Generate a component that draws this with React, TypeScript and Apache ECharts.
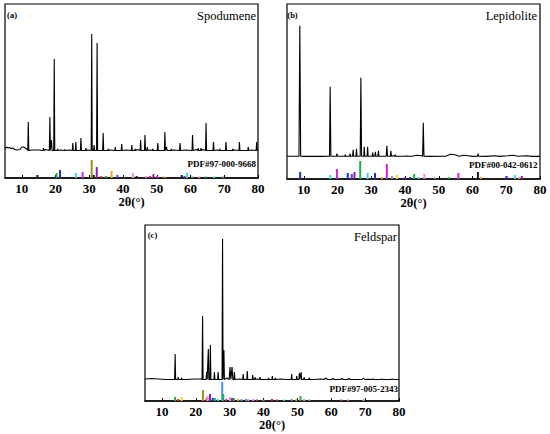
import React, { useEffect, useRef } from "react";
import * as echarts from "echarts";

// ---------- data ----------
const TICK_LABELS = [10, 20, 30, 40, 50, 60, 70, 80];

// Spodumene pattern: [2θ, intensity, optional half-width]
const spodPeaks = [
  [11.9, 29], [16.4, 3], [18.3, 34], [18.8, 11], [19.6, 92], [20.6, 2], [22.7, 1.5],
  [25.1, 8], [26.0, 9], [27.5, 13], [29.0, 3], [30.7, 117], [31.4, 6], [32.3, 108],
  [34.1, 18], [35.6, 2], [37.7, 4], [39.6, 7], [42.6, 6], [43.6, 2], [45.2, 11],
  [46.5, 16], [47.2, 4], [48.8, 2], [50.3, 8], [52.4, 19], [52.9, 4], [54.3, 2],
  [56.9, 8], [60.6, 16], [62.3, 3], [63.1, 3], [64.6, 28], [66.8, 9], [68.7, 2],
  [70.5, 9], [72.5, 2], [74.5, 9], [77.1, 4], [79.6, 9],
];
const spodBackground = [
  [5, 2], [5.4, 4], [5.9, 3], [6.3, 3.5], [6.8, 2.5], [7.3, 3], [7.8, 1.5], [8.5, 1],
  [9.5, 1.5], [10.0, 4], [10.5, 4], [11.0, 3], [11.4, 2], [13, 1], [15, 1], [17, 1.5],
  [21.5, 1], [24, 1], [29.6, 1], [36, 1], [41, 1], [44.3, 1.5], [48, 1], [55, 1], [58.5, 1],
  [61.8, 1.5], [63.6, 1.5], [68, 1], [73, 1], [78, 1], [80, 1],
];
const spodStickPos = [
  14.6, 20.3, 21.3, 26.0, 28.0, 30.7, 31.3, 32.2, 33.4, 34.9, 36.6, 38.3, 42.9, 44.0,
  46.8, 48.0, 49.0, 50.1, 52.3, 57.4, 58.2, 59.0, 60.5, 62.5, 64.5, 67.0, 69.5,
];
const spodStickInt = [
  3, 5, 8, 5, 6, 18, 3, 11, 2, 2, 7, 3, 5, 2,
  2, 2, 4, 2, 1.5, 3, 2, 5, 1.5, 1.5, 1.5, 1.5, 1.5,
];
const spodStickColor = [
  "black", "green", "blue", "cyan", "magenta", "olive", "black", "purple", "red", "green", "orange", "indigo", "pink", "black",
  "pink", "red", "purple", "magenta", "orange", "black", "purple", "cyan", "gray", "pink", "green", "cyan", "gray",
];

// Lepidolite pattern
const lepiPeaks = [
  [8.8, 131, 0.25], [17.8, 70, 0.2], [19.8, 3], [22.3, 2], [23.7, 3], [24.6, 7], [25.6, 8],
  [26.9, 79, 0.2], [27.9, 10], [28.9, 10], [30.4, 4], [31.2, 5], [32.1, 6], [34.6, 11, 0.2],
  [35.8, 6], [37.1, 2], [40.4, 1], [45.4, 34, 0.2], [61.6, 3],
];
const lepiBackground = [
  [5, 0.5], [8, 0.5], [10, 0.3], [15, 0.3], [21, 0.5], [36.5, 1], [38.3, 0.5], [42, 0.5],
  [43.5, 1.5], [44.5, 1.2], [47, 0.3], [52, 0.5], [53.5, 2.5], [54.8, 2], [56, 0.5],
  [57.5, 1.5], [58.7, 1], [60, 0.3], [64, 0.3], [66.5, 1], [68, 0.3], [70.5, 1], [72, 1.5],
  [73.5, 0.5], [76, 1], [77.5, 0.3], [80, 0.3],
];
const lepiStickPos = [
  8.9, 17.8, 19.8, 23.0, 24.2, 25.0, 26.7, 28.9, 31.1, 33.1, 34.6, 36.1, 37.6, 40.0,
  41.5, 42.7, 44.0, 45.7, 48.9, 52.9, 55.8, 61.6, 62.5, 70.1, 72.6, 73.8, 74.6,
];
const lepiStickInt = [
  7, 4, 10, 6, 5, 7, 18, 6, 6, 2, 15, 3, 4, 2,
  2, 5, 2, 5, 1.5, 2, 6, 7, 2, 3, 4, 2, 3,
];
const lepiStickColor = [
  "blue", "cyan", "magenta", "blue", "indigo", "purple", "green", "cyan", "blue", "orange", "magenta", "gray", "yellow", "purple",
  "blue", "green", "cyan", "pink", "gray", "green", "magenta", "black", "orange", "blue", "cyan", "orange", "purple",
];

// Feldspar pattern
const feldPeaks = [
  [13.9, 26], [14.8, 3], [15.8, 2], [22.0, 64], [23.2, 8], [23.7, 31], [24.3, 35],
  [25.5, 8], [26.6, 8], [27.9, 141], [28.3, 30], [30.1, 13, 0.25], [30.7, 13, 0.25],
  [31.4, 8], [34.0, 6], [35.2, 9], [36.8, 5], [37.5, 3], [39.0, 3], [41.5, 2], [42.6, 4],
  [43.5, 2], [48.3, 6], [49.8, 4], [50.6, 7], [51.1, 8], [52.0, 3], [53.5, 2],
  [58.4, 2, 0.5], [60.5, 1.5, 0.4], [63.2, 1.5, 0.4], [65.2, 1.5, 0.4], [69.5, 2, 0.4],
  [72.2, 1, 0.4], [75, 1, 0.4], [78, 1, 0.4],
];
const feldBackground = [
  [5, 1], [7, 1.5], [9, 1], [11, 0.5], [17, 0.5], [20, 1], [21.4, 1], [29.2, 2], [33, 1],
  [38.2, 1], [40.3, 0.5], [45, 1], [47, 0.5], [55, 0.5], [57, 1], [62, 0.5], [67, 0.5],
  [71, 0.7], [74, 0.5], [80, 0.5],
];
const feldStickPos = [
  13.9, 14.8, 15.8, 22.1, 23.2, 23.5, 24.2, 25.0, 25.6, 26.6, 27.8, 28.1, 29.0, 30.1,
  30.7, 31.3, 32.5, 33.5, 34.8, 35.5, 36.9, 38.0, 40.0, 42.5, 44.0, 46.0, 48.3, 49.7,
  50.9, 52.0, 53.5, 63.0, 65.0, 69.5,
];
const feldStickInt = [
  4, 2, 4, 11, 3, 5, 7, 3, 3, 2, 19, 7, 2, 4,
  3, 3, 2, 2, 2, 2, 2, 1.5, 1.5, 2, 1.5, 1.5, 2, 2,
  5, 2, 1.5, 1.5, 1.5, 2,
];
const feldStickColor = [
  "green", "red", "yellow", "olive", "red", "pink", "purple", "blue", "green", "cyan", "sky", "green", "red", "pink",
  "purple", "green", "orange", "gray", "sky", "pink", "pink", "red", "gray", "purple", "red", "cyan", "sky", "orange",
  "green", "pink", "gray", "red", "gray", "pink",
];

const PANEL_LABELS = ["(a)", "(b)", "(c)"];
const MINERALS = ["Spodumene", "Lepidolite", "Feldspar"];
const PDF_CARDS = ["PDF#97-000-9668", "PDF#00-042-0612", "PDF#97-005-2343"];
const X_NAME = "2θ(°)";

// ---------- styles ----------
const PALETTE: Record<string, string> = {
  black: "#1a1a1a", green: "#22b040", blue: "#1c2cd8", cyan: "#3ad8e0", magenta: "#e020e0",
  olive: "#a0901a", purple: "#8a20b0", red: "#c83838", orange: "#f0a030", indigo: "#5a40d0",
  pink: "#f08ce0", gray: "#909090", yellow: "#e8d840", sky: "#4a8ee0",
};
const FONT = '"Liberation Serif", "Times New Roman", serif';
const FOOT = 0.5;

type Layout = { left: number; top: number; width: number; height: number; base: number };
const LAYOUTS: Layout[] = [
  { left: 5, top: 4, width: 253, height: 174, base: 27 },
  { left: 287, top: 4, width: 253, height: 175, base: 22.3 },
  { left: 145, top: 225, width: 254, height: 176, base: 21 },
];

function buildProfile(bg: number[][], peaks: number[][]) {
  const pts: number[][] = bg.map((p) => [p[0], p[1]]);
  peaks.forEach((p) => {
    const hw = p[2] ?? 0.15;
    pts.push([p[0] - hw, FOOT], [p[0], p[1]], [p[0] + hw, FOOT]);
  });
  pts.sort((a, b) => a[0] - b[0]);
  return pts;
}

function buildSticks(pos: number[], val: number[], col: string[]) {
  return pos.map((x, i) => ({ value: [x, val[i]], itemStyle: { color: PALETTE[col[i]] } }));
}

export default function App() {
  const ref = useRef<HTMLDivElement>(null);
  useEffect(() => {
    if (!ref.current) return;
    const chart = echarts.init(ref.current, undefined, { renderer: "svg" });
    const profiles = [
      buildProfile(spodBackground, spodPeaks),
      buildProfile(lepiBackground, lepiPeaks),
      buildProfile(feldBackground, feldPeaks),
    ];
    const sticks = [
      buildSticks(spodStickPos, spodStickInt, spodStickColor),
      buildSticks(lepiStickPos, lepiStickInt, lepiStickColor),
      buildSticks(feldStickPos, feldStickInt, feldStickColor),
    ];

    const grid = LAYOUTS.map((l) => ({
      left: l.left, top: l.top, width: l.width, height: l.height,
      show: true, borderColor: "#000", borderWidth: 1.2, containLabel: false,
    }));
    const xAxis = LAYOUTS.map((_, i) => ({
      type: "value", gridIndex: i, min: 5, max: 80, splitNumber: 8,
      axisLine: { show: true, onZero: false, lineStyle: { color: "#000", width: 1.6 } },
      axisTick: { show: true, inside: true, length: 3, lineStyle: { color: "#000", width: 1 } },
      splitLine: { show: false },
      axisLabel: {
        color: "#000", fontFamily: FONT, fontWeight: "bold", fontSize: 13, margin: 4,
        showMinLabel: false,
        formatter: (v: number) => (TICK_LABELS.includes(v) ? String(v) : ""),
      },
      name: X_NAME, nameLocation: "middle", nameGap: 17,
      nameTextStyle: { color: "#000", fontFamily: FONT, fontWeight: "bold", fontSize: 12.5 },
    }));
    const yAxis: any[] = [];
    LAYOUTS.forEach((l, i) => {
      yAxis.push({ type: "value", gridIndex: i, show: false, min: -l.base, max: l.height - l.base });
      yAxis.push({ type: "value", gridIndex: i, show: false, min: 0, max: l.height });
    });
    const series: any[] = [];
    LAYOUTS.forEach((_, i) => {
      series.push({
        type: "line", xAxisIndex: i, yAxisIndex: 2 * i, data: profiles[i], symbol: "none",
        lineStyle: { color: "#000", width: 1.1 }, silent: true,
      });
      series.push({
        type: "bar", xAxisIndex: i, yAxisIndex: 2 * i + 1, data: sticks[i], barWidth: 2, silent: true,
      });
    });

    const textEl = (text: string, x: number, y: number, font: string, align: string) => ({
      type: "text", x, y, silent: true,
      style: { text, font, fill: "#000", textAlign: align, textVerticalAlign: "middle", align, verticalAlign: "middle" },
    });
    const labelPos = [[12, 15], [292.5, 15], [152.5, 235]];
    const namePos = [[256, 15.5], [537, 16], [397, 237]];
    const pdfPos = [[256, 163.5], [537.5, 165], [398, 389]];
    const graphic: any[] = [];
    LAYOUTS.forEach((_, i) => {
      graphic.push(textEl(PANEL_LABELS[i], labelPos[i][0], labelPos[i][1], `bold 8.5px ${FONT}`, "center"));
      graphic.push(textEl(MINERALS[i], namePos[i][0], namePos[i][1], `12.5px ${FONT}`, "right"));
      graphic.push(textEl(PDF_CARDS[i], pdfPos[i][0], pdfPos[i][1], `bold 9px ${FONT}`, "right"));
    });

    chart.setOption({
      animation: false,
      backgroundColor: "#fff",
      grid, xAxis, yAxis, series, graphic,
    });
    return () => chart.dispose();
  }, []);
  return (
    <div
      ref={ref}
      style={{ position: "absolute", left: 0, top: 0, width: 550, height: 434, background: "#fff" }}
    />
  );
}
